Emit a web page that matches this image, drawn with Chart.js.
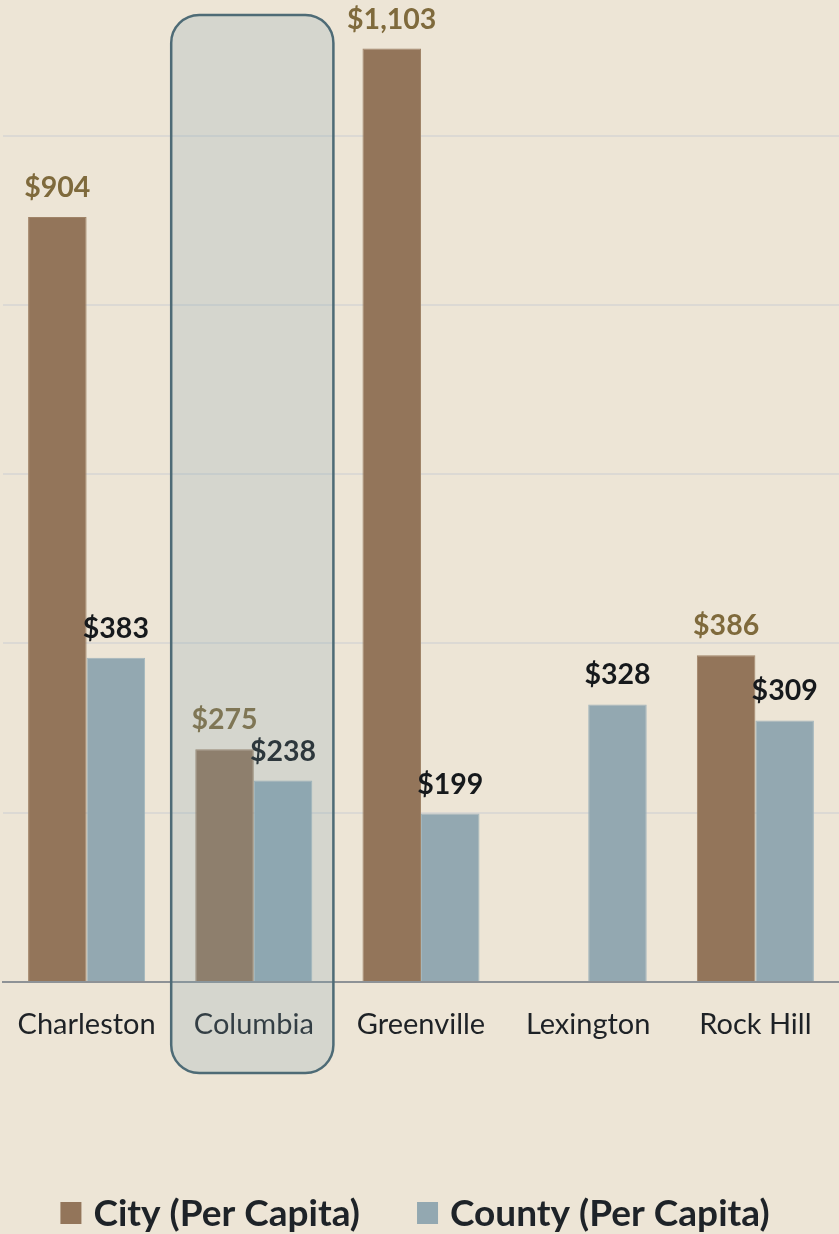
<!DOCTYPE html>
<html>
<head>
<meta charset="utf-8">
<script src="https://cdn.jsdelivr.net/npm/chart.js@4/dist/chart.umd.min.js"></script>
<style>
  html, body { margin: 0; padding: 0; background: #EDE5D6; overflow: hidden; }
  #wrap { width: 839px; height: 1234px; position: relative; }
</style>
</head>
<body>
<div id="wrap"><canvas id="c" width="839" height="1234"></canvas></div>
<script>
const categories = ["Charleston", "Columbia", "Greenville", "Lexington", "Rock Hill"];
const cityValues = [904, 275, 1103, null, 386];
const countyValues = [383, 238, 199, 328, 309];
const seriesNames = ["City (Per Capita)", "County (Per Capita)"];
const yTickValues = [0, 200, 400, 600, 800, 1000];
const highlightIndex = 1;

const FONT = "Lato, 'Open Sans', sans-serif";
const CITY = "#93755A";
const COUNTY = "#93A8B1";

const labelsPlugin = {
  id: 'valueLabels',
  afterDatasetsDraw(chart) {
    const ctx = chart.ctx;
    ctx.save();
    ctx.font = "bold 28.5px " + FONT;
    ctx.textAlign = 'center';
    ctx.textBaseline = 'alphabetic';
    chart.data.datasets.forEach((ds, di) => {
      const meta = chart.getDatasetMeta(di);
      meta.data.forEach((bar, i) => {
        const v = ds.data[i];
        if (v == null) return;
        ctx.fillStyle = di === 0 ? "#7F6A3C" : "#16191C";
        ctx.fillText("$" + v.toLocaleString('en-US'), bar.x, bar.y - 20);
      });
    });
    ctx.restore();
  }
};

const highlightPlugin = {
  id: 'highlight',
  afterDraw(chart) {
    const ctx = chart.ctx;
    const xs = chart.scales.x;
    const ca = chart.chartArea;
    const cw = (ca.right - ca.left) / categories.length;
    const cx = xs.getPixelForValue(highlightIndex);
    const left = cx - cw / 2 + 1;
    const right = cx + cw / 2 - 4;
    const top = 15;
    const bottom = ca.bottom + 91;
    ctx.save();
    ctx.beginPath();
    ctx.roundRect(left, top, right - left, bottom - top, 28);
    ctx.fillStyle = "rgba(129,164,178,0.22)";
    ctx.fill();
    ctx.lineWidth = 2.5;
    ctx.strokeStyle = "#4E6B76";
    ctx.stroke();
    ctx.restore();
  }
};

const legendPlugin = {
  id: 'customLegend',
  afterDraw(chart) {
    const ctx = chart.ctx;
    ctx.save();
    ctx.font = "bold 37px " + FONT;
    ctx.textBaseline = 'middle';
    ctx.textAlign = 'left';
    const boxW = 21, boxH = 22, boxGap = 12, itemGap = 57;
    const items = chart.data.datasets.map(ds => ({ text: ds.label, color: ds.backgroundColor }));
    let total = 0;
    items.forEach((it, i) => {
      it.w = ctx.measureText(it.text).width;
      total += boxW + boxGap + it.w + (i < items.length - 1 ? itemGap : 0);
    });
    let x = 415 - total / 2;
    const cy = 1213;
    items.forEach(it => {
      ctx.fillStyle = it.color;
      ctx.fillRect(x, cy - boxH / 2, boxW, boxH);
      x += boxW + boxGap;
      ctx.fillStyle = "#1E2328";
      ctx.fillText(it.text, x, cy + 1);
      x += it.w + itemGap;
    });
    ctx.restore();
  }
};

new Chart(document.getElementById('c'), {
  type: 'bar',
  data: {
    labels: categories,
    datasets: [
      { label: seriesNames[0], data: cityValues, backgroundColor: CITY, borderColor: "#A08468", borderWidth: 1,
        categoryPercentage: 0.7, barPercentage: 1.0 },
      { label: seriesNames[1], data: countyValues, backgroundColor: COUNTY, borderColor: "#A3B6BD", borderWidth: 1,
        categoryPercentage: 0.7, barPercentage: 1.0 }
    ]
  },
  options: {
    responsive: false,
    animation: false,
    devicePixelRatio: 1,
    layout: { padding: { left: 3, right: 0, top: 2, bottom: 0 } },
    plugins: {
      legend: { display: false },
      tooltip: { enabled: false }
    },
    scales: {
      x: {
        grid: { display: false },
        border: { display: true, color: "#8E9296", width: 2 },
        ticks: { font: { family: FONT, size: 29 }, color: "#1E2226", padding: 17, maxRotation: 0 },
        afterFit(scale) { scale.height = 1234 - 982; }
      },
      y: {
        min: 0, max: 1158,
        bounds: 'data',
        ticks: { display: false },
        afterBuildTicks(scale) { scale.ticks = yTickValues.map(v => ({ value: v })); },
        grid: { color: "#DCD9D4", lineWidth: 2, drawTicks: false },
        border: { display: false }
      }
    }
  },
  plugins: [labelsPlugin, highlightPlugin, legendPlugin]
});
</script>
</body>
</html>
